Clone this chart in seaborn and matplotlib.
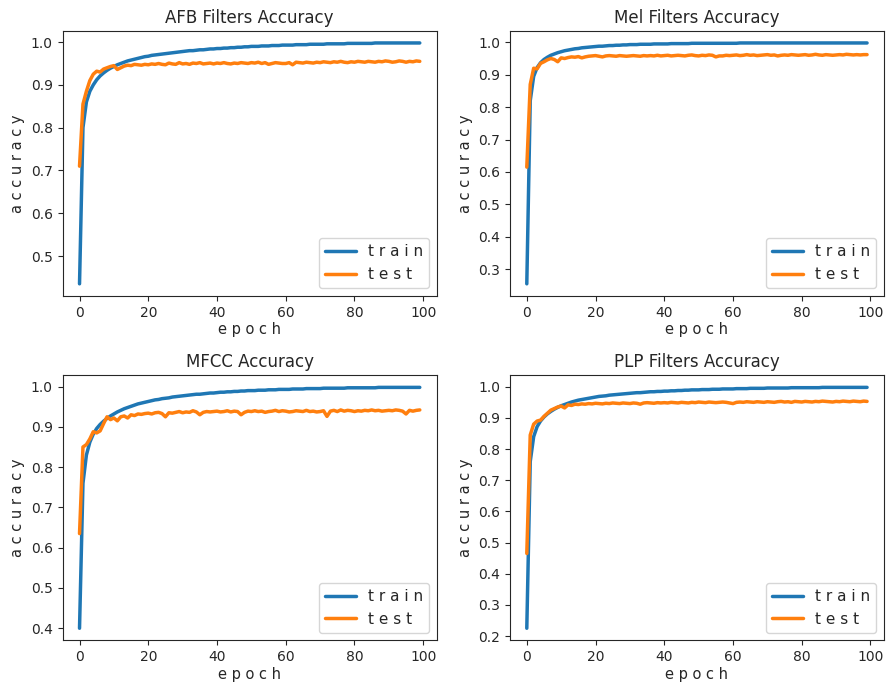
import numpy as np
import seaborn as sns
import matplotlib
matplotlib.use("Agg")
import matplotlib.pyplot as plt

# accuracy per epoch
afb_train = [0.435, 0.800, 0.860, 0.885, 0.900, 0.912, 0.921, 0.928, 0.934, 0.939,
             0.943, 0.947, 0.950, 0.953, 0.956, 0.958, 0.960, 0.962, 0.964, 0.966,
             0.967, 0.969, 0.970, 0.971, 0.972, 0.973, 0.974, 0.975, 0.976, 0.977,
             0.978, 0.979, 0.980, 0.980, 0.981, 0.982, 0.982, 0.983, 0.984, 0.984,
             0.985, 0.985, 0.986, 0.986, 0.987, 0.987, 0.988, 0.988, 0.989, 0.989,
             0.990, 0.990, 0.990, 0.991, 0.991, 0.991, 0.992, 0.992, 0.992, 0.993,
             0.993, 0.993, 0.993, 0.994, 0.994, 0.994, 0.994, 0.995, 0.995, 0.995,
             0.995, 0.995, 0.996, 0.996, 0.996, 0.996, 0.996, 0.996, 0.997, 0.997,
             0.997, 0.997, 0.997, 0.997, 0.997, 0.997, 0.998, 0.998, 0.998, 0.998,
             0.998, 0.998, 0.998, 0.998, 0.998, 0.998, 0.998, 0.998, 0.998, 0.998]
afb_test = [0.710, 0.855, 0.885, 0.910, 0.925, 0.932, 0.930, 0.937, 0.940, 0.943,
            0.945, 0.936, 0.940, 0.944, 0.946, 0.945, 0.948, 0.947, 0.946, 0.948,
            0.947, 0.949, 0.948, 0.950, 0.948, 0.947, 0.951, 0.949, 0.948, 0.952,
            0.949, 0.950, 0.948, 0.951, 0.950, 0.952, 0.949, 0.950, 0.951, 0.949,
            0.951, 0.950, 0.952, 0.950, 0.949, 0.951, 0.950, 0.952, 0.951, 0.950,
            0.952, 0.951, 0.953, 0.950, 0.952, 0.948, 0.950, 0.952, 0.951, 0.950,
            0.950, 0.952, 0.947, 0.953, 0.952, 0.951, 0.953, 0.952, 0.951, 0.953,
            0.952, 0.954, 0.953, 0.952, 0.954, 0.953, 0.955, 0.953, 0.952, 0.954,
            0.953, 0.955, 0.954, 0.953, 0.955, 0.954, 0.953, 0.955, 0.954, 0.956,
            0.955, 0.953, 0.954, 0.956, 0.955, 0.953, 0.955, 0.954, 0.956, 0.955]

mel_train = [0.255, 0.820, 0.895, 0.922, 0.937, 0.947, 0.954, 0.960, 0.964, 0.968,
             0.971, 0.974, 0.976, 0.978, 0.980, 0.981, 0.983, 0.984, 0.985, 0.986,
             0.987, 0.988, 0.988, 0.989, 0.990, 0.990, 0.991, 0.991, 0.992, 0.992,
             0.993, 0.993, 0.993, 0.994, 0.994, 0.994, 0.994, 0.995, 0.995, 0.995,
             0.995, 0.995, 0.996, 0.996, 0.996, 0.996, 0.996, 0.996, 0.997, 0.997,
             0.997, 0.997, 0.997, 0.997, 0.997, 0.997, 0.997, 0.997, 0.997, 0.997,
             0.997, 0.997, 0.998, 0.998, 0.998, 0.998, 0.998, 0.998, 0.998, 0.998,
             0.998, 0.998, 0.998, 0.998, 0.998, 0.998, 0.998, 0.998, 0.998, 0.998,
             0.998, 0.998, 0.998, 0.998, 0.998, 0.998, 0.998, 0.998, 0.998, 0.998,
             0.998, 0.998, 0.998, 0.998, 0.998, 0.998, 0.998, 0.998, 0.998, 0.998]
mel_test = [0.615, 0.870, 0.920, 0.918, 0.935, 0.940, 0.946, 0.950, 0.947, 0.940,
            0.952, 0.950, 0.953, 0.955, 0.954, 0.956, 0.952, 0.955, 0.957, 0.958,
            0.959, 0.957, 0.955, 0.958, 0.959, 0.958, 0.957, 0.959, 0.958, 0.957,
            0.958, 0.959, 0.958, 0.957, 0.959, 0.958, 0.959, 0.958, 0.960, 0.958,
            0.959, 0.960, 0.958, 0.959, 0.960, 0.959, 0.958, 0.960, 0.961, 0.959,
            0.958, 0.960, 0.959, 0.961, 0.960, 0.955, 0.958, 0.958, 0.960, 0.959,
            0.960, 0.961, 0.959, 0.960, 0.962, 0.960, 0.961, 0.959, 0.960, 0.961,
            0.962, 0.960, 0.961, 0.958, 0.960, 0.961, 0.960, 0.962, 0.961, 0.960,
            0.961, 0.962, 0.960, 0.961, 0.963, 0.961, 0.960, 0.962, 0.961, 0.960,
            0.961, 0.962, 0.961, 0.963, 0.962, 0.961, 0.962, 0.961, 0.962, 0.962]

mfcc_train = [0.400, 0.760, 0.830, 0.862, 0.882, 0.896, 0.906, 0.914, 0.921, 0.927,
              0.932, 0.937, 0.941, 0.945, 0.948, 0.951, 0.954, 0.957, 0.959, 0.961,
              0.963, 0.965, 0.967, 0.968, 0.970, 0.971, 0.972, 0.974, 0.975, 0.976,
              0.977, 0.978, 0.979, 0.980, 0.981, 0.981, 0.982, 0.983, 0.984, 0.984,
              0.985, 0.986, 0.986, 0.987, 0.987, 0.988, 0.988, 0.989, 0.989, 0.990,
              0.990, 0.990, 0.991, 0.991, 0.991, 0.992, 0.992, 0.992, 0.993, 0.993,
              0.993, 0.993, 0.994, 0.994, 0.994, 0.994, 0.995, 0.995, 0.995, 0.995,
              0.995, 0.996, 0.996, 0.996, 0.996, 0.996, 0.996, 0.996, 0.997, 0.997,
              0.997, 0.997, 0.997, 0.997, 0.997, 0.997, 0.997, 0.998, 0.998, 0.998,
              0.998, 0.998, 0.998, 0.998, 0.998, 0.998, 0.998, 0.998, 0.998, 0.998]
mfcc_test = [0.635, 0.850, 0.856, 0.870, 0.888, 0.885, 0.890, 0.908, 0.925, 0.918,
             0.922, 0.915, 0.925, 0.927, 0.922, 0.930, 0.928, 0.932, 0.931, 0.933,
             0.934, 0.932, 0.935, 0.936, 0.933, 0.925, 0.935, 0.934, 0.936, 0.938,
             0.935, 0.937, 0.936, 0.940, 0.937, 0.930, 0.936, 0.938, 0.937, 0.938,
             0.939, 0.937, 0.938, 0.940, 0.937, 0.939, 0.938, 0.930, 0.936, 0.939,
             0.938, 0.940, 0.938, 0.939, 0.936, 0.938, 0.939, 0.941, 0.938, 0.940,
             0.939, 0.937, 0.938, 0.940, 0.939, 0.938, 0.941, 0.938, 0.939, 0.937,
             0.938, 0.940, 0.926, 0.939, 0.941, 0.938, 0.942, 0.939, 0.941, 0.940,
             0.938, 0.940, 0.939, 0.941, 0.940, 0.942, 0.940, 0.941, 0.939, 0.940,
             0.941, 0.940, 0.942, 0.941, 0.939, 0.932, 0.941, 0.939, 0.941, 0.942]

plp_train = [0.225, 0.760, 0.840, 0.872, 0.890, 0.903, 0.913, 0.921, 0.928, 0.934,
             0.939, 0.943, 0.947, 0.951, 0.954, 0.957, 0.959, 0.961, 0.963, 0.965,
             0.967, 0.969, 0.970, 0.971, 0.973, 0.974, 0.975, 0.976, 0.977, 0.978,
             0.979, 0.980, 0.981, 0.981, 0.982, 0.983, 0.984, 0.984, 0.985, 0.985,
             0.986, 0.986, 0.987, 0.987, 0.988, 0.988, 0.989, 0.989, 0.990, 0.990,
             0.990, 0.991, 0.991, 0.991, 0.992, 0.992, 0.992, 0.993, 0.993, 0.993,
             0.993, 0.994, 0.994, 0.994, 0.994, 0.995, 0.995, 0.995, 0.995, 0.995,
             0.996, 0.996, 0.996, 0.996, 0.996, 0.996, 0.996, 0.997, 0.997, 0.997,
             0.997, 0.997, 0.997, 0.997, 0.997, 0.997, 0.998, 0.998, 0.998, 0.998,
             0.998, 0.998, 0.998, 0.998, 0.998, 0.998, 0.998, 0.998, 0.998, 0.998]
plp_test = [0.465, 0.845, 0.880, 0.890, 0.893, 0.905, 0.915, 0.925, 0.930, 0.935,
            0.938, 0.932, 0.942, 0.940, 0.944, 0.943, 0.945, 0.944, 0.946, 0.945,
            0.947, 0.946, 0.945, 0.947, 0.946, 0.948, 0.947, 0.946, 0.948, 0.947,
            0.946, 0.948, 0.947, 0.944, 0.948, 0.949, 0.948, 0.947, 0.949, 0.948,
            0.949, 0.948, 0.950, 0.949, 0.948, 0.950, 0.949, 0.948, 0.950, 0.949,
            0.951, 0.950, 0.949, 0.951, 0.950, 0.949, 0.950, 0.951, 0.950, 0.948,
            0.946, 0.950, 0.951, 0.950, 0.952, 0.951, 0.950, 0.952, 0.951, 0.950,
            0.952, 0.951, 0.950, 0.952, 0.953, 0.951, 0.952, 0.950, 0.953, 0.952,
            0.951, 0.953, 0.952, 0.951, 0.953, 0.952, 0.954, 0.953, 0.952, 0.951,
            0.953, 0.952, 0.954, 0.953, 0.952, 0.954, 0.953, 0.952, 0.954, 0.953]

titles = ["AFB Filters Accuracy", "Mel Filters Accuracy", "MFCC Accuracy", "PLP Filters Accuracy"]
train_runs = [afb_train, mel_train, mfcc_train, plp_train]
test_runs = [afb_test, mel_test, mfcc_test, plp_test]

sns.set_style("ticks")
plt.rcParams['font.family'] = ['DejaVu Sans']

fig, axes = plt.subplots(2, 2, figsize=(8.93, 6.87), dpi=100)
fig.subplots_adjust(left=0.07, right=0.99, top=0.955, bottom=0.068, hspace=0.30, wspace=0.195)

for ax, title, tr, te in zip(axes.flat, titles, train_runs, test_runs):
    epochs = np.arange(len(tr))
    sns.lineplot(x=epochs, y=tr, ax=ax, color='#1f77b4', linewidth=2.5, label='t r a i n')
    sns.lineplot(x=epochs, y=te, ax=ax, color='#ff7f0e', linewidth=2.5, label='t e s t')
    ax.set_title(title, fontsize=12)
    ax.set_xlabel("e p o c h", fontsize=10.5, labelpad=2)
    ax.set_ylabel("a c c u r a c y", fontsize=10.5)
    ax.set_xticks([0, 20, 40, 60, 80, 100])
    ax.tick_params(labelsize=10)
    ax.legend(loc='lower right', fontsize=11)

plt.savefig("out.png", dpi=100)
